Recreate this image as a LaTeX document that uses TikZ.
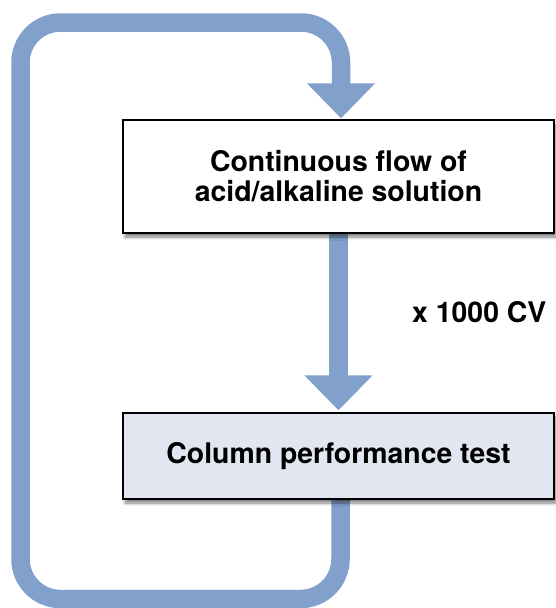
\documentclass[tikz,border=0pt]{standalone}
\usepackage{fontspec}
\setmainfont{TeX Gyre Heros}
\usetikzlibrary{arrows.meta,backgrounds,shadows.blur}
\definecolor{flowblue}{RGB}{130,160,204}
\definecolor{testfill}{RGB}{225,230,241}
\tikzset{
  stepbox/.style={draw=black, line width=1.3pt, inner sep=0pt,
    minimum width=431pt, font=\fontsize{28.4pt}{30pt}\selectfont\bfseries,
    align=center,
    blur shadow={shadow xshift=2pt, shadow yshift=-4pt, shadow blur radius=3pt, shadow blur steps=8, shadow opacity=50}},
  flow/.style={draw=flowblue, line width=18.5pt,
    -{Triangle[length=35pt, width=66pt]}},
  lbl/.style={font=\fontsize{28.4pt}{30pt}\selectfont\bfseries, inner sep=0pt}
}
\begin{document}
\begin{tikzpicture}[x=1pt, y=-1pt]
\useasboundingbox (0,0) rectangle (555,608);
\node[stepbox, fill=white, minimum height=113pt] (b1) at (338.5,176.5)
  {Continuous flow of\\acid/alkaline solution};
\node[stepbox, fill=testfill, minimum height=86pt] (b2) at (338.5,456)
  {Column performance test};
\node[lbl, anchor=base west] (cv) at (412,322) {x 1000 CV};
\coordinate (bl) at (20.5,599);
\coordinate (tl) at (20.5,22.5);
\begin{scope}[on background layer]
\draw[flow, shorten >=2pt] (b1.south) -- (b2.north);
\draw[flow, rounded corners=40pt, shorten >=1pt]
  ([xshift=2pt]b2.south) |- (bl) -- (tl) -| ([xshift=2.5pt]b1.north);
\end{scope}
\end{tikzpicture}
\end{document}
